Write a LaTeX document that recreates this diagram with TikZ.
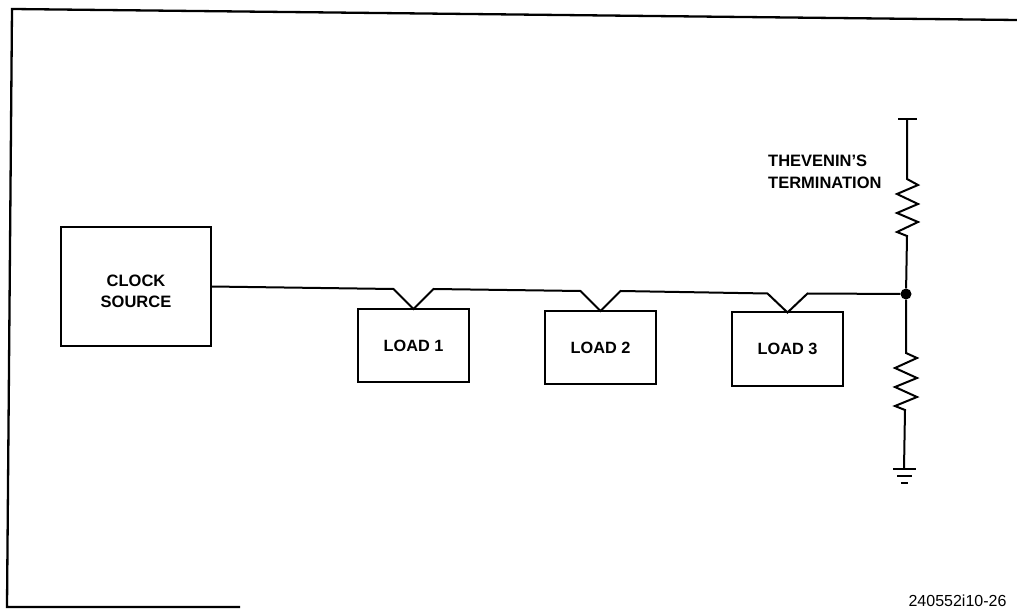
\documentclass[tikz,border=0pt]{standalone}
\usepackage{fontspec}
\setmainfont{Liberation Sans}
\usetikzlibrary{positioning}

\begin{document}
\begin{tikzpicture}[
        x=1pt, y=-1pt,
        wire/.style={line width=2pt, line join=miter},
        frameline/.style={line width=2.3pt},
        box/.style={draw, line width=2pt, align=center, outer sep=0pt, inner sep=0pt, font=\fontsize{16.3}{21}\selectfont\bfseries},
        clockbox/.style={box, minimum width=150pt, minimum height=119pt},
        loadbox/.style={box, minimum width=111pt, minimum height=73pt},
        note/.style={align=left, inner sep=0pt, font=\fontsize{16.5}{21.5}\selectfont\bfseries},
        dot/.style={circle, fill=black, inner sep=0pt, minimum size=11pt}
    ]
        \useasboundingbox (0,0) rectangle (1017,609);

        % page frame, open on the right
        \coordinate (frametr) at (1017,20);
        \coordinate (frametl) at (12,9);
        \coordinate (framebl) at (7,607);
        \coordinate (framebr) at (240,607);
        \draw[frameline] (frametr) -- (frametl) -- (framebl) -- (framebr);

        \node[clockbox] (clock) at (136,286.5) {};
        \node[note, align=center, yshift=-5pt] (clocktext) at (clock) {CLOCK\\SOURCE};
        \node[loadbox, right=147pt of clock, yshift=-59pt] (load1) {LOAD 1};
        \node[loadbox, right=76pt of load1, yshift=-2pt] (load2) {LOAD 2};
        \node[loadbox, right=76pt of load2, yshift=-1.5pt] (load3) {LOAD 3};

        \node[dot] (junction) at (906,294) {};
        \coordinate (vcc) at (907,119);
        \coordinate (vccl) at (898,119);
        \coordinate (vccr) at (917,119);
        \coordinate (gnd) at (904,469);

        % clock line with the three load taps
        \draw[wire] (clock.east)
            -- ([shift={(-20pt,20pt)}]load1.north) -- (load1.north) -- ([shift={(20pt,20pt)}]load1.north)
            -- ([shift={(-20pt,20pt)}]load2.north) -- (load2.north) -- ([shift={(20pt,20pt)}]load2.north)
            -- ([shift={(-20pt,19pt)}]load3.north) -- (load3.north) -- ([shift={(20pt,19pt)}]load3.north)
            -- (junction);

        % termination resistors
        \draw[wire] (vccl) -- (vccr);
        \draw[wire] (vcc) -- (907,179) -- (918,185) -- (897,194) -- (918,204) -- (897,213) -- (918,222) -- (897,232) -- (907,236) -- (junction);
        \draw[wire] (junction) -- (906,353) -- (917,358) -- (895,368) -- (917,378) -- (895,387) -- (917,397) -- (895,406) -- (905,410) -- (gnd);

        % ground
        \draw[wire] (893,469) -- (916,469);
        \draw[wire] (897,476) -- (912,476);
        \draw[wire] (901,483) -- (908,483);

        \node[note, anchor=north west] (thevenin) at (768,155) {THEVENIN'S\\TERMINATION};
        \node[inner sep=0pt, font=\fontsize{16}{20}\selectfont] (figid) at (957.5,601) {240552i10-26};
    \end{tikzpicture}
\end{document}
